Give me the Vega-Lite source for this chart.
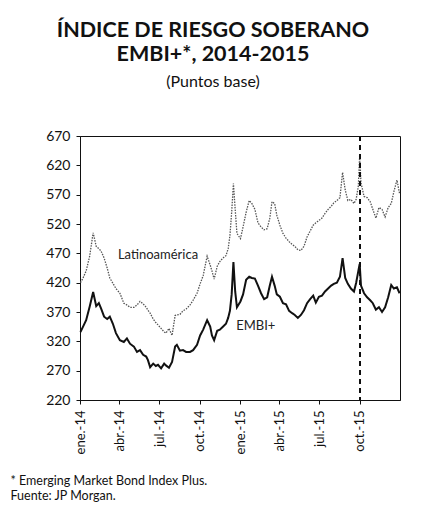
{
  "$schema": "https://vega.github.io/schema/vega-lite/v6.json",
  "width": 320,
  "height": 264,
  "autosize": "none",
  "padding": {"left": 80, "top": 136, "right": 24, "bottom": 112},
  "background": "white",
  "title": {
    "text": ["ÍNDICE DE RIESGO SOBERANO", "EMBI+*, 2014-2015"],
    "subtitle": "(Puntos base)",
    "anchor": "middle",
    "frame": "group",
    "dx": -27,
    "offset": 39,
    "font": "Lato",
    "fontSize": 21.5,
    "fontWeight": "bold",
    "color": "#111",
    "lineHeight": 24,
    "subtitleFont": "Lato",
    "subtitleFontSize": 16,
    "subtitleColor": "#111",
    "subtitlePadding": 9
  },
  "config": {
    "view": {"stroke": "#111", "strokeWidth": 1},
    "axis": {"labelFont": "Lato", "titleFont": "Lato", "labelColor": "#111", "titleColor": "#111", "domainColor": "#111", "tickColor": "#111", "grid": false, "labelOverlap": false}
  },
  "data": {"values": [
    {"d": "2014-01-02", "lat": 420, "embi": 336},
    {"d": "2014-01-08", "lat": 428, "embi": 345},
    {"d": "2014-01-15", "lat": 440, "embi": 356},
    {"d": "2014-01-23", "lat": 465, "embi": 379},
    {"d": "2014-01-31", "lat": 505, "embi": 404},
    {"d": "2014-02-07", "lat": 482, "embi": 380},
    {"d": "2014-02-13", "lat": 478, "embi": 385},
    {"d": "2014-02-18", "lat": 474, "embi": 376},
    {"d": "2014-02-25", "lat": 462, "embi": 362},
    {"d": "2014-03-04", "lat": 445, "embi": 358},
    {"d": "2014-03-10", "lat": 428, "embi": 362},
    {"d": "2014-03-17", "lat": 419, "embi": 350},
    {"d": "2014-03-24", "lat": 410, "embi": 334},
    {"d": "2014-04-02", "lat": 402, "embi": 322},
    {"d": "2014-04-11", "lat": 385, "embi": 319},
    {"d": "2014-04-18", "lat": 382, "embi": 325},
    {"d": "2014-04-25", "lat": 378, "embi": 316},
    {"d": "2014-05-04", "lat": 378, "embi": 311},
    {"d": "2014-05-11", "lat": 382, "embi": 302},
    {"d": "2014-05-18", "lat": 388, "embi": 305},
    {"d": "2014-05-25", "lat": 384, "embi": 297},
    {"d": "2014-06-01", "lat": 378, "embi": 294},
    {"d": "2014-06-05", "lat": 373, "embi": 288},
    {"d": "2014-06-10", "lat": 368, "embi": 276},
    {"d": "2014-06-17", "lat": 358, "embi": 282},
    {"d": "2014-06-23", "lat": 352, "embi": 278},
    {"d": "2014-06-28", "lat": 348, "embi": 280},
    {"d": "2014-07-05", "lat": 342, "embi": 274},
    {"d": "2014-07-12", "lat": 336, "embi": 282},
    {"d": "2014-07-16", "lat": 334, "embi": 279},
    {"d": "2014-07-23", "lat": 342, "embi": 275},
    {"d": "2014-07-30", "lat": 330, "embi": 285},
    {"d": "2014-08-06", "lat": 364, "embi": 311},
    {"d": "2014-08-10", "lat": 365, "embi": 314},
    {"d": "2014-08-17", "lat": 366, "embi": 304},
    {"d": "2014-08-24", "lat": 372, "embi": 305},
    {"d": "2014-08-31", "lat": 375, "embi": 302},
    {"d": "2014-09-09", "lat": 382, "embi": 302},
    {"d": "2014-09-16", "lat": 390, "embi": 305},
    {"d": "2014-09-25", "lat": 402, "embi": 314},
    {"d": "2014-10-02", "lat": 418, "embi": 330},
    {"d": "2014-10-09", "lat": 432, "embi": 340},
    {"d": "2014-10-18", "lat": 465, "embi": 356},
    {"d": "2014-10-25", "lat": 450, "embi": 345},
    {"d": "2014-10-29", "lat": 440, "embi": 330},
    {"d": "2014-11-03", "lat": 426, "embi": 322},
    {"d": "2014-11-10", "lat": 448, "embi": 338},
    {"d": "2014-11-16", "lat": 456, "embi": 340},
    {"d": "2014-11-23", "lat": 462, "embi": 345},
    {"d": "2014-11-30", "lat": 466, "embi": 350},
    {"d": "2014-12-05", "lat": 478, "embi": 360},
    {"d": "2014-12-09", "lat": 500, "embi": 372},
    {"d": "2014-12-13", "lat": 540, "embi": 400},
    {"d": "2014-12-17", "lat": 589, "embi": 455},
    {"d": "2014-12-21", "lat": 545, "embi": 405},
    {"d": "2014-12-25", "lat": 504, "embi": 378},
    {"d": "2015-01-02", "lat": 495, "embi": 388},
    {"d": "2015-01-08", "lat": 515, "embi": 400},
    {"d": "2015-01-15", "lat": 540, "embi": 425},
    {"d": "2015-01-22", "lat": 560, "embi": 430},
    {"d": "2015-01-28", "lat": 555, "embi": 428},
    {"d": "2015-02-04", "lat": 545, "embi": 427},
    {"d": "2015-02-11", "lat": 522, "embi": 415},
    {"d": "2015-02-18", "lat": 515, "embi": 402},
    {"d": "2015-02-25", "lat": 510, "embi": 392},
    {"d": "2015-03-04", "lat": 512, "embi": 395},
    {"d": "2015-03-10", "lat": 530, "embi": 415},
    {"d": "2015-03-15", "lat": 558, "embi": 430},
    {"d": "2015-03-21", "lat": 555, "embi": 415},
    {"d": "2015-03-26", "lat": 535, "embi": 400},
    {"d": "2015-04-02", "lat": 518, "embi": 396},
    {"d": "2015-04-09", "lat": 504, "embi": 385},
    {"d": "2015-04-16", "lat": 496, "embi": 383},
    {"d": "2015-04-23", "lat": 490, "embi": 372},
    {"d": "2015-04-30", "lat": 485, "embi": 368},
    {"d": "2015-05-06", "lat": 482, "embi": 365},
    {"d": "2015-05-13", "lat": 476, "embi": 360},
    {"d": "2015-05-20", "lat": 475, "embi": 365},
    {"d": "2015-05-27", "lat": 482, "embi": 373},
    {"d": "2015-06-03", "lat": 498, "embi": 385},
    {"d": "2015-06-10", "lat": 508, "embi": 392},
    {"d": "2015-06-17", "lat": 518, "embi": 398},
    {"d": "2015-06-23", "lat": 522, "embi": 386},
    {"d": "2015-06-30", "lat": 526, "embi": 396},
    {"d": "2015-07-07", "lat": 530, "embi": 398},
    {"d": "2015-07-14", "lat": 538, "embi": 405},
    {"d": "2015-07-21", "lat": 545, "embi": 410},
    {"d": "2015-07-28", "lat": 550, "embi": 415},
    {"d": "2015-08-03", "lat": 556, "embi": 418},
    {"d": "2015-08-10", "lat": 560, "embi": 420},
    {"d": "2015-08-17", "lat": 565, "embi": 430},
    {"d": "2015-08-23", "lat": 608, "embi": 462},
    {"d": "2015-08-29", "lat": 578, "embi": 428},
    {"d": "2015-09-04", "lat": 560, "embi": 418},
    {"d": "2015-09-11", "lat": 562, "embi": 410},
    {"d": "2015-09-18", "lat": 555, "embi": 405},
    {"d": "2015-09-23", "lat": 562, "embi": 420},
    {"d": "2015-09-28", "lat": 585, "embi": 440},
    {"d": "2015-10-01", "lat": 637, "embi": 452},
    {"d": "2015-10-04", "lat": 590, "embi": 415},
    {"d": "2015-10-11", "lat": 567, "embi": 402},
    {"d": "2015-10-18", "lat": 565, "embi": 395},
    {"d": "2015-10-25", "lat": 558, "embi": 390},
    {"d": "2015-10-31", "lat": 545, "embi": 385},
    {"d": "2015-11-07", "lat": 530, "embi": 374},
    {"d": "2015-11-14", "lat": 548, "embi": 378},
    {"d": "2015-11-21", "lat": 545, "embi": 370},
    {"d": "2015-11-28", "lat": 532, "embi": 378},
    {"d": "2015-12-05", "lat": 548, "embi": 395},
    {"d": "2015-12-12", "lat": 555, "embi": 416},
    {"d": "2015-12-18", "lat": 575, "embi": 410},
    {"d": "2015-12-25", "lat": 595, "embi": 412},
    {"d": "2015-12-31", "lat": 572, "embi": 402}
  ]},
  "layer": [
    {
      "mark": {"type": "line", "color": "#555", "strokeWidth": 1.3, "strokeDash": [1.5, 1.2]},
      "encoding": {
        "x": {
          "field": "d", "type": "temporal",
          "scale": {"type": "utc", "nice": false, "domain": [{"year": 2014, "month": 1, "date": 1, "utc": true}, {"year": 2016, "month": 1, "date": 1, "utc": true}]},
          "axis": {
            "values": [
              {"year": 2014, "month": 1, "date": 1, "utc": true},
              {"year": 2014, "month": 4, "date": 1, "utc": true},
              {"year": 2014, "month": 7, "date": 1, "utc": true},
              {"year": 2014, "month": 10, "date": 1, "utc": true},
              {"year": 2015, "month": 1, "date": 1, "utc": true},
              {"year": 2015, "month": 4, "date": 1, "utc": true},
              {"year": 2015, "month": 7, "date": 1, "utc": true},
              {"year": 2015, "month": 10, "date": 1, "utc": true}
            ],
            "tickCount": 20,
            "labelExpr": "['ene.','feb.','mar.','abr.','may.','jun.','jul.','ago.','sep.','oct.','nov.','dic.'][utcmonth(datum.value)] + '-' + utcFormat(datum.value, '%y')",
            "labelAngle": -90,
            "labelFontSize": 13,
            "labelPadding": 6,
            "labelOverlap": false,
            "tickSize": 4,
            "title": ["* Emerging Market Bond Index Plus.", "Fuente: JP Morgan."],
            "titleFontSize": 12.5,
            "titleFontWeight": "normal",
            "titleAnchor": "start",
            "titleAlign": "left",
            "titleBaseline": "alphabetic",
            "titleX": -70,
            "titleY": 84,
            "titleLineHeight": 15
          }
        },
        "y": {
          "field": "lat", "type": "quantitative",
          "scale": {"domain": [220, 670], "nice": false, "zero": false},
          "axis": {"values": [220, 270, 320, 370, 420, 470, 520, 570, 620, 670], "tickCount": 20, "labelOverlap": false, "labelFontSize": 14, "tickSize": 4, "labelPadding": 6, "title": null}
        }
      }
    },
    {
      "mark": {"type": "line", "color": "#111", "strokeWidth": 2},
      "encoding": {
        "x": {"field": "d", "type": "temporal"},
        "y": {"field": "embi", "type": "quantitative"}
      }
    },
    {
      "mark": {"type": "rule", "color": "#111", "strokeDash": [5, 4], "strokeWidth": 1.2},
      "encoding": {"x": {"datum": {"year": 2015, "month": 10, "date": 1, "utc": true}, "type": "temporal"}}
    },
    {
      "data": {"values": [
        {"d": "2014-06-28", "v": 467, "t": "Latinoamérica"},
        {"d": "2015-02-06", "v": 346, "t": "EMBI+"}
      ]},
      "mark": {"type": "text", "font": "Lato", "fontSize": 13, "color": "#222"},
      "encoding": {
        "x": {"field": "d", "type": "temporal"},
        "y": {"field": "v", "type": "quantitative"},
        "text": {"field": "t"}
      }
    }
  ]
}
